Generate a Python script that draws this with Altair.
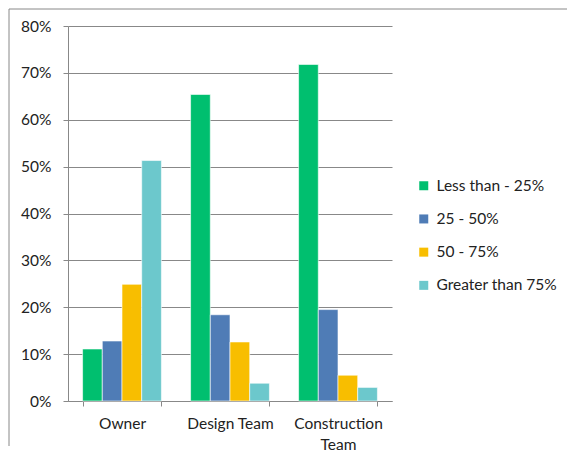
import altair as alt
import pandas as pd

categories = ["Owner", "Design Team", "Construction Team"]
series = ["Less than - 25%", "25 - 50%", "50 - 75%", "Greater than 75%"]
less25 = [0.111, 0.654, 0.718]
r25_50 = [0.128, 0.184, 0.195]
r50_75 = [0.249, 0.126, 0.055]
gt75 = [0.513, 0.038, 0.029]
colors = ["#00BF6F", "#4F7CB6", "#F8BE00", "#6CC8CC"]

rows = []
for s, vals in zip(series, [less25, r25_50, r50_75, gt75]):
    for c, v in zip(categories, vals):
        rows.append({"cat": c, "series": s, "value": v})
df = pd.DataFrame(rows)

W, H = 324, 375
FONT = "Lato"
FS = 15.5

bars = alt.Chart(df).mark_bar(stroke="white", strokeWidth=0.6).encode(
    x=alt.X("cat:N", sort=categories, title=None,
            scale=alt.Scale(paddingInner=0.27, paddingOuter=0.135),
            axis=alt.Axis(labelAngle=0, tickBand="extent", tickSize=5,
                          labelPadding=10, labelFontSize=FS, labelFont=FONT,
                          labelColor="#222222", domainColor="#888888",
                          tickColor="#888888", grid=False,
                          labelExpr="datum.label == 'Construction Team' ? ['Construction', 'Team'] : datum.label",
                          labelLineHeight=21)),
    xOffset=alt.XOffset("series:N", sort=series,
                        scale=alt.Scale(paddingInner=0, paddingOuter=0)),
    y=alt.Y("value:Q", title=None,
            scale=alt.Scale(domain=[0, 0.8], nice=False),
            axis=alt.Axis(format=".0%", values=[0, 0.1, 0.2, 0.3, 0.4, 0.5, 0.6, 0.7, 0.8],
                          tickSize=5, labelPadding=12, labelFontSize=FS, labelFont=FONT,
                          labelColor="#222222", domainColor="#888888",
                          tickColor="#888888", gridColor="#888888", gridWidth=1)),
    color=alt.Color("series:N", sort=series,
                    scale=alt.Scale(domain=series, range=colors),
                    legend=alt.Legend(title=None, orient="none", legendX=348, legendY=152,
                                      symbolType="square", symbolSize=81, symbolStrokeWidth=0,
                                      labelFontSize=FS, labelFont=FONT, labelColor="#222222",
                                      rowPadding=16.2, labelOffset=5)),
)

border_left = alt.Chart(pd.DataFrame({"a": [0]})).mark_rule(color="#888888", strokeWidth=1).encode(
    x=alt.value(-59), y=alt.value(-17), y2=alt.value(H + 45))
border_top = alt.Chart(pd.DataFrame({"a": [0]})).mark_rule(color="#888888", strokeWidth=1).encode(
    x=alt.value(-59), x2=alt.value(W + 175), y=alt.value(-17))

chart = alt.layer(bars, border_left, border_top).properties(
    width=W, height=H, padding=0
).configure_view(stroke=None)

chart.save("out.html", embed_options={"renderer": "svg", "actions": False})
